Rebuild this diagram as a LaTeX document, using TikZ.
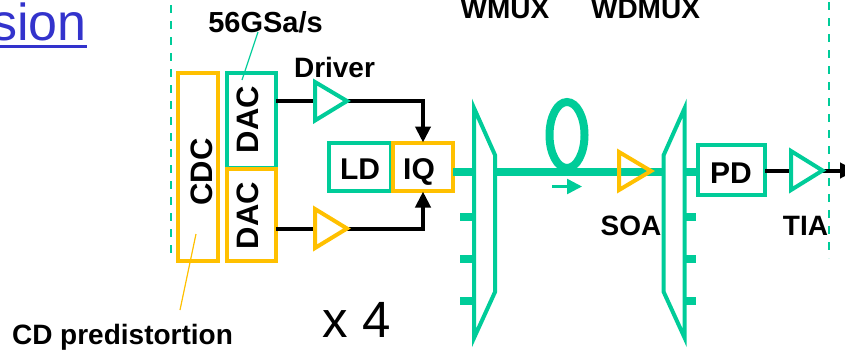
\documentclass[tikz,border=0pt]{standalone}
\usepackage{fontspec}
\setmainfont{Liberation Sans}
\usetikzlibrary{arrows.meta}
\definecolor{grn}{RGB}{0,204,153}
\definecolor{ylw}{RGB}{255,192,0}
\definecolor{lnk}{RGB}{51,51,204}
\newcommand{\fs}[1]{\fontsize{#1}{#1}\selectfont}
\tikzset{
  x=1pt,y=-1pt,
  box/.style={draw=#1,line width=4pt,fill=none,inner sep=0pt,outer sep=0pt,anchor=north west},
  lbl/.style={inner sep=0pt,outer sep=0pt,font=\fs{28}\bfseries,text=black,anchor=base},
  blbl/.style={inner sep=0pt,outer sep=0pt,font=\fs{31}\bfseries,text=black},
  tri/.style={draw=#1,line width=4pt,miter limit=10,line join=miter},
  wire/.style={draw=black,line width=4pt},
  fib/.style={draw=grn,line width=7.5pt},
  stub/.style={draw=grn,line width=8pt},
  mux/.style={draw=grn,line width=4pt,miter limit=10},
  sep/.style={draw=grn,line width=2pt,dash pattern=on 8pt off 8pt},
  lead/.style={line width=1.2pt},
  arr/.style={-{Triangle[length=16pt,width=15pt]}}
}
\begin{document}
\begin{tikzpicture}
\useasboundingbox (0,0) rectangle (845,349);
\clip (0,0) rectangle (845,349);
% separators
\coordinate (sl1) at (171,5); \coordinate (sl2) at (171,258);
\coordinate (sr1) at (829,2); \coordinate (sr2) at (829,258);
\draw[sep] (sl1) -- (sl2);
\draw[sep] (sr1) -- (sr2);
% title fragment
\node[anchor=base west,inner sep=0pt,font=\fs{52},text=lnk] (title) at (-9,40) {sion};
\draw[draw=lnk,line width=3pt] (-9,46.5) -- (87,46.5);
% coordinates of triangles
\coordinate (d1l) at (315,101); \coordinate (d1t) at (347,101);
\coordinate (d2l) at (315,228.5); \coordinate (d2t) at (347,228.5);
\coordinate (tl) at (791,170.5); \coordinate (tt) at (822,170.5);
% boxes
\node[box=ylw,minimum width=40pt,minimum height=188pt] (cdc) at (177.5,73) {};
\node[box=grn,minimum width=49pt,minimum height=95pt] (dac1) at (227,73) {};
\node[box=ylw,minimum width=49pt,minimum height=92pt] (dac2) at (227,169) {};
\node[box=grn,minimum width=62pt,minimum height=48pt] (ld) at (329,143) {};
\node[box=ylw,minimum width=60pt,minimum height=48pt] (iq) at (393,143) {};
\node[box=grn,minimum width=67pt,minimum height=50pt] (pd) at (698,145) {};
\node[blbl,rotate=90] (cdct) at (202,172) {CDC};
\node[blbl,rotate=90] (dac1t) at (248,119.5) {DAC};
\node[blbl,rotate=90] (dac2t) at (248,215.5) {DAC};
\node[lbl,font=\fs{30}\bfseries] (ldt) at (360,179) {LD};
\node[lbl,font=\fs{30}\bfseries] (iqt) at (419,179) {IQ};
\node[lbl,font=\fs{30}\bfseries] (pdt) at (731,183) {PD};
% wires
\coordinate (a1) at (423,101); \coordinate (a2) at (423,228.5);
\draw[wire] (dac1.east |- d1l) -- (d1l);
\draw[wire,arr] (d1t) -- (a1) -- (423,142.5);
\draw[wire] (dac2.east |- d2l) -- (d2l);
\draw[wire,arr] (d2t) -- (a2) -- (423,191.5);
\draw[wire] (pd.east |- tl) -- (tl);
\coordinate (outp) at (856,170.5);
\draw[wire,arr] (tt) -- (outp);
% fibre
\coordinate (m1a) at (473,172); \coordinate (m1b) at (495,172);
\coordinate (m2a) at (663,172); \coordinate (m2b) at (685,172);
\draw[fib] (iq.east |- m1a) -- (m1a);
\draw[fib] (m1b) -- (m2a);
\draw[fib] (m2b) -- (pd.west |- m2b);
\draw[draw=grn,line width=8pt] (567,135) ellipse [x radius=17.5,y radius=33];
% stubs
\foreach \y in {217,259,301} {
  \coordinate (ls) at (460,\y); \coordinate (le) at (473,\y);
  \coordinate (rs) at (685,\y); \coordinate (re) at (696,\y);
  \draw[stub] (ls) -- (le);
  \draw[stub] (rs) -- (re);
}
% muxes
\draw[mux,fill=white] (474,108) -- (495,155) -- (495,292) -- (474,338) -- cycle;
\draw[mux,fill=white] (684.7,108) -- (663.7,155) -- (663.7,292) -- (684.7,338) -- cycle;
% triangles
\draw[tri=grn] (315,82) -- (347,101) -- (315,120.5) -- cycle;
\draw[tri=ylw] (315,209) -- (347,228.5) -- (315,248) -- cycle;
\draw[tri=ylw] (619,152) -- (651,171) -- (619,190) -- cycle;
\draw[tri=grn] (791,151) -- (822.5,170.5) -- (791,190) -- cycle;
% small arrow
\coordinate (sa1) at (552,186.5); \coordinate (sa2) at (582,186.5);
\draw[draw=grn,line width=2.5pt,-{Triangle[length=15pt,width=15pt]}] (sa1) -- (sa2);
% labels
\node[lbl] (wmux) at (505,18) {WMUX};
\node[lbl] (wdmux) at (645.5,18) {WDMUX};
\node[lbl,font=\fs{29}\bfseries] (rate) at (265.5,32.5) {56GSa/s};
\node[lbl] (drv) at (334.5,77) {Driver};
\node[lbl] (soa) at (631,235) {SOA};
\node[lbl] (tia) at (805.5,235) {TIA};
\node[lbl] (cdp) at (122.5,344) {CD predistortion};
\node[anchor=base,inner sep=0pt,font=\fs{51},text=black] (x4) at (357,337.7) {x 4};
% leader lines
\coordinate (g1) at (258,32); \coordinate (g2) at (242,80);
\coordinate (y1) at (196,234); \coordinate (y2) at (180,310);
\draw[grn,lead] (g1) -- (g2);
\draw[ylw,lead] (y1) -- (y2);
\end{tikzpicture}
\end{document}
